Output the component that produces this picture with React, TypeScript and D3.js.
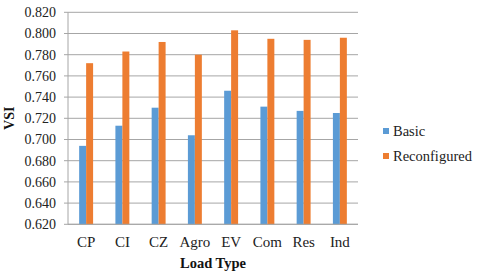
import React from "react";
import * as d3 from "d3";

const categories = ["CP", "CI", "CZ", "Agro", "EV", "Com", "Res", "Ind"];
const seriesNames = ["Basic", "Reconfigured"];
const basicValues = [0.694, 0.713, 0.730, 0.704, 0.746, 0.731, 0.727, 0.725];
const reconfiguredValues = [0.772, 0.783, 0.792, 0.780, 0.803, 0.795, 0.794, 0.796];
const yTicks = [0.62, 0.64, 0.66, 0.68, 0.7, 0.72, 0.74, 0.76, 0.78, 0.8, 0.82];
const colors = ["#5b9bd5", "#ed7d31"];

const W = 480;
const H = 274;
const left = 68;
const right = 358;
const top = 12.3;
const bottom = 224.3;
const FONT = "'Liberation Serif', 'Times New Roman', serif";

export default function App() {
  const x = d3.scaleBand<string>().domain(categories).range([left, right]).padding(0);
  const inner = d3.scaleBand<string>().domain(seriesNames).range([0, x.bandwidth()]).paddingInner(0).paddingOuter(1.6);
  const y = d3.scaleLinear().domain([0.62, 0.82]).range([bottom, top]);
  const series = [basicValues, reconfiguredValues];

  return (
    <svg width={W} height={H} style={{ position: "absolute", left: 0, top: 0, background: "#fff" }}>
      <rect x={0} y={0} width={W} height={H} fill="#fff" />
      {yTicks.map((t) => (
        <g key={t}>
          <line x1={left - 4} x2={right} y1={y(t)} y2={y(t)} stroke="#a6a6a6" strokeWidth={1} />
          <text x={56} y={y(t) + 4.8} textAnchor="end" fontFamily={FONT} fontSize={14} fill="#222">
            {d3.format(".3f")(t)}
          </text>
        </g>
      ))}
      <line x1={left} x2={left} y1={top} y2={bottom} stroke="#a6a6a6" strokeWidth={1} />
      {categories.map((c, i) => (
        <g key={c}>
          {series.map((vals, s) => (
            <rect
              key={s}
              x={(x(c) as number) + (inner(seriesNames[s]) as number)}
              y={y(vals[i])}
              width={inner.bandwidth()}
              height={bottom - y(vals[i])}
              fill={colors[s]}
            />
          ))}
          <text
            x={(x(c) as number) + x.bandwidth() / 2}
            y={247}
            textAnchor="middle"
            fontFamily={FONT}
            fontSize={15}
            fill="#222"
          >
            {c}
          </text>
        </g>
      ))}
      <line x1={left} x2={right} y1={bottom} y2={bottom} stroke="#a6a6a6" strokeWidth={1} />
      <text x={(left + right) / 2} y={268} textAnchor="middle" fontFamily={FONT} fontSize={14.5} fontWeight="bold" fill="#111">
        Load Type
      </text>
      <text
        transform={`translate(13.5, ${(top + bottom) / 2}) rotate(-90)`}
        textAnchor="middle"
        fontFamily={FONT}
        fontSize={14}
        fontWeight="bold"
        fill="#111"
      >
        VSI
      </text>
      {seriesNames.map((n, s) => (
        <g key={n} transform={`translate(383, ${128 + s * 25})`}>
          <rect x={0} y={0} width={6} height={6} fill={colors[s]} />
          <text x={10} y={7.5} fontFamily={FONT} fontSize={14.5} fill="#222">
            {n}
          </text>
        </g>
      ))}
    </svg>
  );
}
